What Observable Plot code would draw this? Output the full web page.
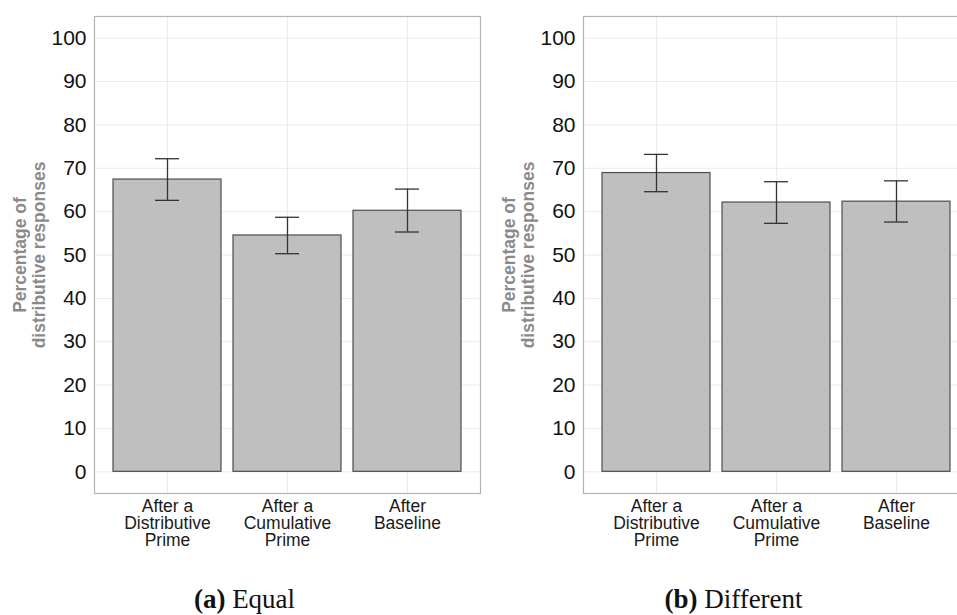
<!DOCTYPE html>
<html><head><meta charset="utf-8">
<script src="https://cdn.jsdelivr.net/npm/d3@7"></script>
<script src="https://cdn.jsdelivr.net/npm/@observablehq/plot@0.6"></script>
<style>
html,body{margin:0;padding:0;width:957px;height:615px;overflow:hidden;background:#fff;}
.panel{position:absolute;top:0;width:490px;height:560px;}
.cap{position:absolute;width:489px;text-align:center;font-family:"Liberation Serif","Times New Roman",serif;font-size:27px;line-height:27px;color:#111;}
.cap b{font-weight:bold;}
</style>
</head><body>
<div id="p1" class="panel" style="left:0px"></div>
<div id="p2" class="panel" style="left:489px"></div>
<div id="c1" class="cap" style="left:0px;top:586px"></div>
<div id="c2" class="cap" style="left:489px;top:586px"></div>
<script>
const categories = ["After a\nDistributive\nPrime", "After a\nCumulative\nPrime", "After\nBaseline"];
const equalMean = [67.4, 54.5, 60.2];
const equalLow  = [62.6, 50.3, 55.3];
const equalHigh = [72.2, 58.7, 65.2];
const diffMean  = [68.9, 62.1, 62.3];
const diffLow   = [64.6, 57.3, 57.6];
const diffHigh  = [73.2, 66.9, 67.1];
const yTicks = [0, 10, 20, 30, 40, 50, 60, 70, 80, 90, 100];
const yTitle = "Percentage of\ndistributive responses";
const capLabels = ["(a)", "(b)"];
const capTexts = ["Equal", "Different"];

function panel(mean, lo, hi) {
  const data = categories.map((c, i) => ({cat: c, mean: mean[i], lo: lo[i], hi: hi[i]}));
  return Plot.plot({
    width: 490, height: 560,
    marginLeft: 94, marginRight: 10, marginTop: 16, marginBottom: 67,
    style: {fontFamily: "'Liberation Sans', Arial, sans-serif", background: "transparent"},
    x: {domain: categories, paddingInner: 0.1, paddingOuter: 0.15, axis: null},
    y: {domain: [-5, 105], axis: null},
    marks: [
      Plot.gridY(yTicks, {stroke: "#ebebeb", strokeOpacity: 1, strokeWidth: 1}),
      Plot.gridX(categories, {stroke: "#ebebeb", strokeOpacity: 1, strokeWidth: 1}),
      Plot.barY(data, {x: "cat", y: "mean", fill: "#bfbfbf", stroke: "#4d4d4d", strokeWidth: 1.2}),
      Plot.ruleX(data, {x: "cat", y1: "lo", y2: "hi", stroke: "#333", strokeWidth: 1.3}),
      Plot.tickY(data, {x: "cat", y: "lo", insetLeft: 42, insetRight: 42, stroke: "#333", strokeWidth: 1.3}),
      Plot.tickY(data, {x: "cat", y: "hi", insetLeft: 42, insetRight: 42, stroke: "#333", strokeWidth: 1.3}),
      Plot.frame({stroke: "#b3b3b3", strokeWidth: 1.2}),
      Plot.axisY(yTicks, {tickSize: 0, tickPadding: 8, fontSize: 21, fill: "#111", label: null}),
      Plot.axisX({tickSize: 0, tickPadding: 7, fontSize: 17.5, lineHeight: 0.96, fill: "#1a1a1a", label: null}),
      Plot.text([yTitle], {frameAnchor: "left", rotate: -90, dx: -65, fontSize: 17.5, fontWeight: "bold", fill: "#8a8a8a", lineHeight: 1.1, textAnchor: "middle", lineAnchor: "middle"})
    ]
  });
}

document.getElementById("p1").append(panel(equalMean, equalLow, equalHigh));
document.getElementById("p2").append(panel(diffMean, diffLow, diffHigh));
["c1", "c2"].forEach((id, i) => {
  const el = document.getElementById(id);
  const b = document.createElement("b");
  b.textContent = capLabels[i];
  el.append(b, document.createTextNode(" " + capTexts[i]));
});
</script>
</body></html>
